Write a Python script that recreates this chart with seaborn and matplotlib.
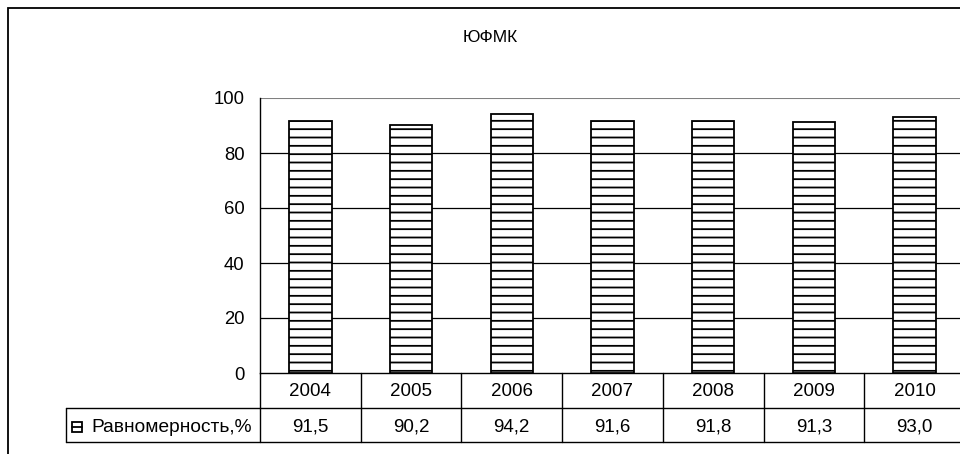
import matplotlib
matplotlib.use('Agg')
import matplotlib.pyplot as plt
import matplotlib.transforms as mtransforms
import matplotlib.patches as mpatches
import matplotlib.lines as mlines
import seaborn as sns

# data
years = ['2004', '2005', '2006', '2007', '2008', '2009', '2010']
uniformity = [91.5, 90.2, 94.2, 91.6, 91.8, 91.3, 93.0]
value_labels = ['91,5', '90,2', '94,2', '91,6', '91,8', '91,3', '93,0']
series_name = 'Равномерность,%'
chart_title = 'ЮФМК'
y_ticks = [0, 20, 40, 60, 80, 100]

sns.set_style('white')
plt.rcParams['font.family'] = ['Liberation Sans', 'DejaVu Sans']
plt.rcParams['hatch.linewidth'] = 1.3
plt.rcParams['text.color'] = 'black'
plt.rcParams['ytick.color'] = 'black'
plt.rcParams['ytick.labelcolor'] = 'black'

W, H = 960, 454
fig = plt.figure(figsize=(9.6, 4.54), dpi=100)

# pixel layout of the plot area
px_left, px_right, px_top, px_bottom = 260, 965, 98, 373
ax = fig.add_axes([px_left / W, (H - px_bottom) / H,
                   (px_right - px_left) / W, (px_bottom - px_top) / H])

sns.barplot(x=years, y=uniformity, color='white', saturation=1, edgecolor='black',
            linewidth=1.3, width=0.42, ax=ax, zorder=3)
for p in ax.patches:
    p.set_hatch('--')

ax.set_xlim(-0.5, len(years) - 0.5)
ax.set_ylim(0, 100)
ax.set_yticks(y_ticks)
ax.set_yticklabels([str(t) for t in y_ticks], fontsize=13.3, color='black')
ax.set_xticks([])
ax.set_xlabel('')
ax.set_ylabel('')
for t in y_ticks[1:-1]:
    ax.axhline(t, color='black', lw=0.9, zorder=1)
ax.axhline(100, color='#808080', lw=1.5, zorder=1)

ax.spines['top'].set_visible(False)
ax.spines['right'].set_visible(False)
ax.spines['left'].set_color('black')
ax.spines['bottom'].set_color('black')
ax.spines['left'].set_linewidth(1.0)
ax.spines['bottom'].set_linewidth(1.0)
ax.tick_params(axis='y', direction='out', length=5, width=1, color='black', pad=6)

# data table below the axis
trans = mtransforms.blended_transform_factory(ax.transData, ax.transAxes)
ph = px_bottom - px_top
y_row1 = -(408 - px_bottom) / ph
y_row2 = -(442 - px_bottom) / ph
y_head_txt = -(391 - px_bottom) / ph
y_val_txt = -(427 - px_bottom) / ph
x_lab = (66 - px_left) / (px_right - px_left)

ax.plot([x_lab, 1.05], [y_row1, y_row1], transform=ax.transAxes, color='black', lw=1.0, clip_on=False)
ax.plot([x_lab, 1.05], [y_row2, y_row2], transform=ax.transAxes, color='black', lw=1.0, clip_on=False)
ax.plot([x_lab, x_lab], [y_row1, y_row2], transform=ax.transAxes, color='black', lw=1.0, clip_on=False)
ax.plot([0, 0], [0, y_row2], transform=ax.transAxes, color='black', lw=1.0, clip_on=False)
for i in range(len(years)):
    ax.plot([i + 0.5, i + 0.5], [0, y_row2], transform=trans, color='black', lw=1.0, clip_on=False)
    ax.text(i, y_head_txt, years[i], transform=trans, ha='center', va='center', fontsize=13.5)
    ax.text(i, y_val_txt, value_labels[i], transform=trans, ha='center', va='center', fontsize=13.5)

# legend key and series name
ax.text((91 - px_left) / (px_right - px_left), y_val_txt, series_name,
        transform=ax.transAxes, ha='left', va='center', fontsize=13.8)
key = mpatches.Rectangle((72 / W, (H - 432) / H), 10 / W, 10 / H, transform=fig.transFigure,
                         facecolor='white', edgecolor='black', lw=1.3)
fig.patches.append(key)
fig.lines.append(mlines.Line2D([72 / W, 82 / W], [(H - 427) / H, (H - 427) / H],
                               transform=fig.transFigure, color='black', lw=1.3))

# title and outer frame
fig.text(490 / W, 1 - 38 / H, chart_title, ha='center', va='center', fontsize=12.5)
frame = mpatches.Rectangle((8 / W, -0.05), 1.1, 1.05 - 8 / H, transform=fig.transFigure,
                           facecolor='none', edgecolor='black', lw=1.3)
fig.patches.append(frame)

fig.savefig('out.png', dpi=100)
